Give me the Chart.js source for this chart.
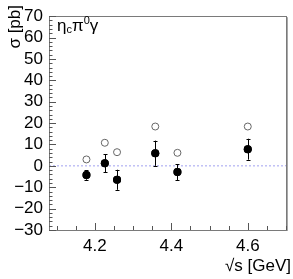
<!DOCTYPE html>
<html>
<head>
<meta charset="utf-8">
<script src="https://cdn.jsdelivr.net/npm/chart.js@4/dist/chart.umd.min.js"></script>
<style>
html,body{margin:0;padding:0;background:#fff;}
#wrap{width:293px;height:279px;position:relative;}
</style>
</head>
<body>
<div id="wrap"><canvas id="c" width="293" height="279"></canvas></div>
<script>
// Data
const energies   = [4.178, 4.226, 4.258, 4.358, 4.416, 4.600];
const sigma      = [-4.3, 1.2, -6.5, 5.9, -2.9, 7.8];
const sigmaErr   = [2.2, 4.2, 4.7, 5.9, 3.7, 4.9];
const upperLimit = [3.0, 10.8, 6.4, 18.4, 6.1, 18.4];
const xTicks = [4.2, 4.4, 4.6];
const yTicks = [-30, -20, -10, 0, 10, 20, 30, 40, 50, 60, 70];

const X_MIN = 4.08, X_MAX = 4.70, Y_MIN = -30, Y_MAX = 70;
const FONT = "Liberation Sans, Arial, Helvetica, sans-serif";

const framePlugin = {
  id: 'frame',
  afterDraw(chart) {
    const ctx = chart.ctx, a = chart.chartArea;
    const xs = chart.scales.x, ys = chart.scales.y;
    ctx.save();
    // frame
    ctx.strokeStyle = '#7a7a7a';
    ctx.lineWidth = 1;
    ctx.strokeRect(Math.round(a.left)+0.5, Math.round(a.top)+0.5, Math.round(a.right-a.left), Math.round(a.bottom-a.top));
    ctx.strokeStyle = '#a8a8a8';
    ctx.beginPath();
    ctx.moveTo(Math.round(a.right)+1.5, a.top+1); ctx.lineTo(Math.round(a.right)+1.5, a.bottom+1);
    ctx.stroke();
    // ticks (inside)
    ctx.strokeStyle = '#555';
    ctx.lineWidth = 1;
    ctx.beginPath();
    for (let v = 4.10; v <= X_MAX + 1e-9; v += 0.05) {
      const vv = Math.round(v*100)/100;
      const px = Math.round(xs.getPixelForValue(vv)) + 0.5;
      const major = Math.abs(Math.round(vv*5) - vv*5) < 1e-6;
      const len = major ? 7 : 4;
      ctx.moveTo(px, a.bottom); ctx.lineTo(px, a.bottom - len);
    }
    for (let v = Y_MIN; v <= Y_MAX; v += 2) {
      const py = Math.round(ys.getPixelForValue(v)) + 0.5;
      const len = (v % 10 === 0) ? 7 : 3.5;
      ctx.moveTo(a.left, py); ctx.lineTo(a.left + len, py);
    }
    ctx.stroke();
    // error bars
    ctx.strokeStyle = '#000';
    ctx.lineWidth = 1;
    ctx.beginPath();
    energies.forEach((e, i) => {
      const px = Math.round(xs.getPixelForValue(e)) + 0.5;
      const y1 = ys.getPixelForValue(sigma[i] + sigmaErr[i]);
      const y2 = ys.getPixelForValue(sigma[i] - sigmaErr[i]);
      ctx.moveTo(px, y1); ctx.lineTo(px, y2);
      ctx.moveTo(px - 2, Math.round(y1)+0.5); ctx.lineTo(px + 2, Math.round(y1)+0.5);
      ctx.moveTo(px - 2, Math.round(y2)+0.5); ctx.lineTo(px + 2, Math.round(y2)+0.5);
    });
    ctx.stroke();
    // redraw filled points above bars
    ctx.fillStyle = '#000';
    energies.forEach((e, i) => {
      ctx.beginPath();
      ctx.arc(xs.getPixelForValue(e), ys.getPixelForValue(sigma[i]), 4, 0, Math.PI*2);
      ctx.fill();
    });
    // texts
    ctx.fillStyle = '#000';
    ctx.textBaseline = 'alphabetic';
    ctx.font = '17px ' + FONT;
    ctx.textAlign = 'right';
    ctx.fillText('\u221As [GeV]', 291, 271);
    ctx.save();
    ctx.translate(20, 5);
    ctx.rotate(-Math.PI/2);
    ctx.textAlign = 'right';
    ctx.fillText('\u03C3 [pb]', 0, 0);
    ctx.restore();
    // eta_c pi^0 gamma
    ctx.textAlign = 'left';
    let x = 57;
    const base = 31;
    ctx.font = '17px ' + FONT;
    ctx.fillText('\u03B7', x, base); x += ctx.measureText('\u03B7').width;
    ctx.font = '11px ' + FONT;
    ctx.fillText('c', x, base + 2); x += ctx.measureText('c').width;
    ctx.font = '17px ' + FONT;
    ctx.fillText('\u03C0', x, base); x += ctx.measureText('\u03C0').width;
    ctx.font = '11px ' + FONT;
    ctx.fillText('0', x, base - 7); x += ctx.measureText('0').width;
    ctx.font = '17px ' + FONT;
    ctx.fillText('\u03B3', x, base);
    ctx.restore();
  }
};

new Chart(document.getElementById('c'), {
  type: 'scatter',
  data: {
    datasets: [
      {
        label: 'zero',
        data: [{x: X_MIN, y: 0}, {x: X_MAX, y: 0}],
        showLine: true,
        borderColor: '#a0a0f0',
        borderWidth: 1,
        borderDash: [2, 2],
        pointRadius: 0
      },
      {
        label: 'upper limit',
        data: energies.map((e, i) => ({x: e, y: upperLimit[i]})),
        pointRadius: 3.5,
        pointBackgroundColor: '#fff',
        pointBorderColor: '#666',
        pointBorderWidth: 1
      },
      {
        label: 'sigma',
        data: energies.map((e, i) => ({x: e, y: sigma[i]})),
        pointRadius: 4,
        pointBackgroundColor: '#000',
        pointBorderColor: '#000',
        pointBorderWidth: 0
      }
    ]
  },
  options: {
    responsive: false,
    animation: false,
    devicePixelRatio: 1,
    layout: {padding: {top: 8, right: 7, left: 0, bottom: 0}},
    plugins: {legend: {display: false}, tooltip: {enabled: false}},
    scales: {
      x: {
        type: 'linear', min: X_MIN, max: X_MAX,
        grid: {display: false, drawTicks: false},
        border: {display: false},
        afterBuildTicks: s => { s.ticks = xTicks.map(v => ({value: v})); },
        afterFit: s => { s.height = 49; },
        ticks: {
          padding: 6, color: '#000', maxRotation: 0, autoSkip: false,
          font: {family: FONT, size: 17},
          callback: v => v.toFixed(1)
        }
      },
      y: {
        type: 'linear', min: Y_MIN, max: Y_MAX,
        grid: {display: false, drawTicks: false},
        border: {display: false},
        afterBuildTicks: s => { s.ticks = yTicks.map(v => ({value: v})); },
        afterFit: s => { s.width = 49; },
        ticks: {
          padding: 6, color: '#000', autoSkip: false,
          font: {family: FONT, size: 17},
          callback: v => v < 0 ? '\u2212' + Math.abs(v) : String(v)
        }
      }
    }
  },
  plugins: [framePlugin]
});
</script>
</body>
</html>
